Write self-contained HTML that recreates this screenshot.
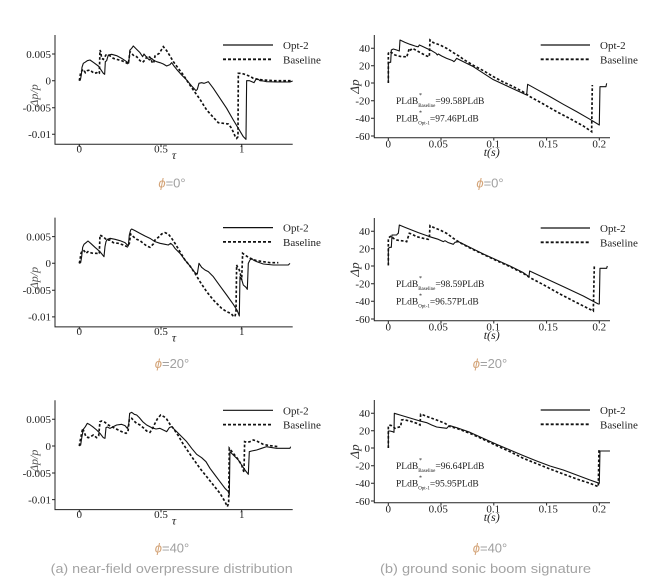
<!DOCTYPE html>
<html><head><meta charset="utf-8">
<style>
html,body{margin:0;padding:0;background:#fff;}
svg{display:block;}
.tk{font-family:"Liberation Serif",serif;font-size:11px;fill:#222;}
.lg{font-family:"Liberation Serif",serif;font-size:11px;fill:#222;}
.an{font-family:"Liberation Serif",serif;font-size:9.5px;fill:#222;}
.ax{stroke:#222;stroke-width:1;fill:none;}
.s{fill:none;stroke:#111;stroke-width:3.3;stroke-linejoin:round;}
.d{fill:none;stroke:#111;stroke-width:5;stroke-dasharray:8 6;}
.phi{font-family:"Liberation Sans",sans-serif;font-size:13px;fill:#a0a0a0;}
.cap{font-family:"Liberation Sans",sans-serif;font-size:13px;fill:#a3a3a3;}
</style></head>
<body>
<svg width="662" height="587" viewBox="0 0 662 587" xmlns="http://www.w3.org/2000/svg">
<rect width="662" height="587" fill="#fff"/>

<defs>
<g id="laxes">
  <path class="ax" d="M55,35 L55,144.3 L292.7,144.3"/>
  <path class="ax" d="M52,54 L55,54 M52,80.7 L55,80.7 M52,107.7 L55,107.7 M52,134.3 L55,134.3 M79.3,144.3 L79.3,147 M161,144.3 L161,147 M241.7,144.3 L241.7,147"/>
  <text class="tk" x="51" y="57.8" text-anchor="end">0.005</text>
  <text class="tk" x="51" y="84.5" text-anchor="end">0</text>
  <text class="tk" x="51" y="111.5" text-anchor="end">-0.005</text>
  <text class="tk" x="51" y="138.1" text-anchor="end">-0.01</text>
  <text class="tk" x="79.3" y="152.5" text-anchor="middle">0</text>
  <text class="tk" x="161" y="152.5" text-anchor="middle">0.5</text>
  <text class="tk" x="241.7" y="152.5" text-anchor="middle">1</text>
  <text x="174" y="159" font-family="Liberation Serif,serif" font-style="italic" font-size="12" fill="#222" text-anchor="middle">τ</text>
  <text transform="translate(38,95.5) rotate(-90)" font-family="Liberation Serif,serif" font-style="italic" font-size="12" fill="#555" text-anchor="middle">Δp/p</text>
  <path d="M223,45 L273,45" stroke="#111" stroke-width="1.2"/>
  <path d="M223,59.3 L273,59.3" stroke="#111" stroke-width="1.8" stroke-dasharray="3 2"/>
  <text class="lg" x="283" y="49">Opt-2</text>
  <text class="lg" x="283" y="63.3">Baseline</text>
</g>
<g id="raxes">
  <path class="ax" d="M374.3,35 L374.3,137.7 L610,137.7"/>
  <path class="ax" d="M371,48.3 L374.3,48.3 M371,65.7 L374.3,65.7 M371,83 L374.3,83 M371,100.7 L374.3,100.7 M371,118.3 L374.3,118.3 M371,136 L374.3,136 M388.3,137.7 L388.3,140.5 M441,137.7 L441,140.5 M493.8,137.7 L493.8,140.5 M546.6,137.7 L546.6,140.5 M599.3,137.7 L599.3,140.5"/>
  <text class="tk" x="370" y="52.1" text-anchor="end">40</text>
  <text class="tk" x="370" y="69.5" text-anchor="end">20</text>
  <text class="tk" x="370" y="86.8" text-anchor="end">0</text>
  <text class="tk" x="370" y="104.5" text-anchor="end">-20</text>
  <text class="tk" x="370" y="122.1" text-anchor="end">-40</text>
  <text class="tk" x="370" y="139.8" text-anchor="end">-60</text>
  <text class="tk" x="388.3" y="147.3" text-anchor="middle">0</text>
  <text class="tk" x="438.3" y="147.3" text-anchor="middle">0.05</text>
  <text class="tk" x="493.3" y="147.3" text-anchor="middle">0.1</text>
  <text class="tk" x="548.3" y="147.3" text-anchor="middle">0.15</text>
  <text class="tk" x="599.3" y="147.3" text-anchor="middle">0.2</text>
  <text x="491.7" y="156" font-family="Liberation Serif,serif" font-style="italic" font-size="12" fill="#222" text-anchor="middle">t(s)</text>
  <text transform="translate(359,86.5) rotate(-90)" font-family="Liberation Serif,serif" font-style="italic" font-size="13" fill="#333" text-anchor="middle">Δp</text>
  <path d="M540.7,45 L590,45" stroke="#111" stroke-width="1.2"/>
  <path d="M540.7,59.3 L590,59.3" stroke="#111" stroke-width="1.8" stroke-dasharray="3 2"/>
  <text class="lg" x="600" y="49">Opt-2</text>
  <text class="lg" x="600" y="63.3">Baseline</text>
</g>
</defs>

<use href="#laxes"/>
<use href="#laxes" transform="translate(0,182.6)"/>
<use href="#laxes" transform="translate(0,365.3)"/>
<use href="#raxes"/>
<use href="#raxes" transform="translate(0,183)"/>
<use href="#raxes" transform="translate(0,365)"/>

<!-- ROW 1 LEFT -->
<g transform="translate(0,30) scale(0.3333)">
<path class="s" d="M238,152 L241,150 L244,135 L246,112 L250,100 L255,97 L262,92 L270,90 L280,97 L295,108 L310,130 L314,133 L316,95 L320,92 L322,85 L325,75 L335,73 L350,77 L365,85 L380,95 L386,100 L388,80 L390,60 L395,55 L400,48 L410,58 L420,68 L428,80 L432,72 L440,82 L448,90 L455,85 L462,92 L470,95 L480,98 L490,102 L500,108 L510,104 L515,98 L522,108 L530,118 L545,135 L560,150 L575,168 L588,182 L592,178 L597,160 L605,158 L612,160 L620,157 L625,155 L640,175 L660,205 L680,235 L700,270 L715,295 L730,320 L738,328 L740,152 L748,152 L755,155 L762,158 L768,148 L775,148 L780,152 L790,153 L800,155 L830,156 L870,156 L878,153"/>
<path class="d" d="M238,152 L240,140 L242,128 L246,122 L250,118 L256,128 L262,122 L270,120 L276,125 L283,130 L290,128 L296,132 L298,130 L300,60 L302,65 L305,85 L310,88 L318,75 L328,76 L340,85 L350,88 L365,92 L378,98 L385,102 L390,65 L395,70 L402,78 L410,80 L420,92 L428,97 L435,90 L442,78 L450,82 L458,100 L462,95 L465,78 L478,70 L490,50 L500,62 L510,78 L520,95 L535,115 L550,135 L565,158 L580,180 L600,208 L620,240 L640,262 L655,278 L670,280 L685,282 L695,295 L705,318 L710,325 L714,320 L715,130 L725,130 L740,135 L752,140 L760,145 L775,148 L790,150 L820,152 L878,152"/>
</g>

<!-- ROW 2 LEFT -->
<g transform="translate(0,210) scale(0.3333)">
<path class="s" d="M238,160 L242,158 L245,140 L248,112 L252,103 L258,98 L264,93 L272,100 L285,112 L300,125 L312,140 L315,110 L318,95 L322,88 L330,85 L345,88 L360,92 L375,98 L385,108 L388,75 L392,60 L395,57 L405,62 L420,70 L435,78 L450,85 L465,95 L480,100 L495,103 L505,105 L512,100 L518,105 L525,115 L540,130 L555,150 L570,168 L585,188 L592,192 L597,160 L605,172 L615,180 L625,185 L640,200 L660,228 L680,255 L700,283 L712,302 L718,318 L720,200 L725,208 L730,225 L738,232 L742,238 L745,160 L750,150 L755,145 L760,150 L770,155 L790,162 L820,165 L865,165 L870,160"/>
<path class="d" d="M238,160 L240,150 L243,130 L247,122 L252,122 L258,130 L264,125 L270,128 L280,130 L290,130 L296,132 L298,130 L300,75 L305,78 L312,82 L320,90 L330,90 L340,98 L355,100 L370,105 L382,110 L388,100 L392,72 L400,80 L410,88 L420,92 L430,100 L440,108 L450,112 L460,102 L465,90 L475,82 L485,72 L495,68 L505,72 L515,85 L525,100 L540,125 L555,150 L570,168 L585,190 L600,215 L620,245 L640,270 L655,285 L665,295 L680,305 L692,310 L700,318 L705,320 L708,305 L710,165 L712,170 L718,180 L722,195 L725,210 L728,130 L735,135 L745,142 L755,147 L770,152 L790,155 L810,158 L835,158"/>
</g>

<!-- ROW 3 LEFT -->
<g transform="translate(0,395) scale(0.3333)">
<path class="s" d="M238,153 L242,150 L245,130 L250,103 L256,95 L262,85 L268,88 L278,95 L290,105 L300,115 L310,128 L315,130 L318,98 L322,96 L330,100 L340,95 L350,90 L365,88 L375,92 L382,100 L386,90 L389,55 L395,52 L403,58 L410,60 L418,68 L428,80 L440,90 L455,98 L468,102 L480,100 L490,105 L500,110 L508,98 L515,95 L520,100 L530,110 L545,125 L560,140 L575,160 L590,178 L605,188 L618,200 L630,220 L645,240 L660,260 L675,280 L685,290 L688,300 L690,170 L695,175 L705,185 L715,195 L725,210 L735,225 L745,238 L748,170 L755,168 L770,165 L785,160 L800,155 L810,157 L830,160 L870,160 L872,155"/>
<path class="d" d="M238,153 L240,140 L244,120 L248,100 L252,110 L258,125 L265,128 L272,125 L280,120 L290,128 L296,122 L300,80 L305,78 L315,82 L325,90 L335,95 L345,100 L355,105 L365,110 L378,115 L384,110 L388,72 L395,70 L402,78 L410,85 L420,90 L432,100 L440,108 L450,112 L458,100 L465,85 L472,72 L482,60 L492,65 L500,72 L510,88 L520,100 L535,122 L550,148 L565,170 L580,192 L600,220 L620,245 L640,270 L660,295 L675,320 L682,335 L686,325 L688,160 L692,165 L700,175 L712,190 L725,210 L732,232 L734,140 L740,142 L750,140 L760,135 L770,138 L790,148 L810,152 L835,155"/>
</g>

<!-- ROW 1 RIGHT -->
<g transform="translate(330,30) scale(0.3333)">
<path class="s" d="M175,159 L175,100 L178,97 L182,97 L184,60 L190,57 L200,60 L205,62 L208,63 L210,30 L225,37 L240,43 L255,48 L262,50 L265,50 L268,45 L275,48 L290,55 L305,62 L318,70 L322,75 L325,72 L335,78 L350,85 L368,92 L372,95 L375,92 L380,85 L430,110 L490,149 L540,172 L590,195 L593,163 L620,178 L660,200 L700,223 L740,245 L780,268 L808,285 L810,170 L828,170 L830,160"/>
<path class="d" d="M175,159 L175,70 L178,65 L185,68 L195,75 L205,78 L215,80 L225,80 L230,82 L238,55 L242,60 L248,55 L260,62 L275,70 L290,78 L298,80 L300,30 L310,38 L330,45 L350,55 L370,68 L390,80 L400,88 L430,106 L460,122 L490,140 L520,156 L550,170 L580,186 L600,200 L640,222 L680,245 L720,266 L760,288 L785,305 L787,165"/>
</g>

<!-- ROW 2 RIGHT -->
<g transform="translate(330,210) scale(0.3333)">
<path class="s" d="M175,166 L175,115 L180,112 L184,112 L186,75 L195,75 L200,75 L202,72 L205,70 L208,45 L225,52 L245,60 L265,68 L285,75 L305,82 L325,88 L340,95 L345,92 L355,98 L370,103 L375,97 L385,95 L420,112 L460,132 L500,150 L540,168 L580,188 L597,200 L599,183 L640,202 L700,230 L760,258 L805,282 L808,282 L810,175 L830,175 L832,168"/>
<path class="d" d="M175,166 L175,85 L180,80 L185,78 L190,85 L200,90 L210,92 L225,93 L230,95 L238,70 L245,72 L260,80 L280,85 L295,88 L298,85 L300,47 L310,52 L330,60 L350,70 L370,85 L390,98 L420,114 L460,133 L500,152 L540,170 L580,190 L600,203 L640,224 L690,252 L740,278 L780,298 L790,303 L793,168"/>
</g>

<!-- ROW 3 RIGHT -->
<g transform="translate(330,395) scale(0.3333)">
<path class="s" d="M175,159 L175,108 L180,108 L188,110 L192,112 L193,55 L210,60 L230,66 L250,72 L270,78 L290,83 L305,90 L320,96 L335,98 L350,100 L355,95 L360,92 L380,98 L420,112 L460,130 L500,148 L540,165 L580,182 L620,198 L660,213 L700,225 L740,240 L780,255 L808,265 L810,168 L840,168"/>
<path class="d" d="M175,159 L175,95 L178,90 L185,92 L190,95 L195,100 L200,98 L212,95 L215,75 L220,74 L240,78 L260,85 L270,90 L272,58 L280,60 L300,68 L320,75 L345,85 L360,95 L380,100 L420,115 L460,133 L500,152 L540,170 L580,190 L620,206 L660,222 L700,237 L740,252 L780,265 L805,275 L807,165"/>
</g>

<!-- PLdB annotations -->
<g class="an">
  <text x="396" y="104">PLdB<tspan font-size="5" dy="3">Baseline</tspan><tspan dy="-3">=99.58PLdB</tspan></text>
  <text x="419" y="97" font-size="6">*</text>
  <text x="396" y="121.5">PLdB<tspan font-size="5" dy="3">Opt-1</tspan><tspan dy="-3">=97.46PLdB</tspan></text>
  <text x="419" y="114.5" font-size="6">*</text>

  <text x="396" y="287">PLdB<tspan font-size="5" dy="3">Baseline</tspan><tspan dy="-3">=98.59PLdB</tspan></text>
  <text x="419" y="280" font-size="6">*</text>
  <text x="396" y="304.5">PLdB<tspan font-size="5" dy="3">Opt-1</tspan><tspan dy="-3">=96.57PLdB</tspan></text>
  <text x="419" y="297.5" font-size="6">*</text>

  <text x="396" y="469">PLdB<tspan font-size="5" dy="3">Baseline</tspan><tspan dy="-3">=96.64PLdB</tspan></text>
  <text x="419" y="462" font-size="6">*</text>
  <text x="396" y="486.5">PLdB<tspan font-size="5" dy="3">Opt-1</tspan><tspan dy="-3">=95.95PLdB</tspan></text>
  <text x="419" y="479.5" font-size="6">*</text>
</g>

<!-- phi labels -->
<text class="phi" x="172" y="187.5" text-anchor="middle"><tspan fill="#d4a57a" font-style="italic">ϕ</tspan>=0°</text>
<text class="phi" x="490" y="187.5" text-anchor="middle"><tspan fill="#d4a57a" font-style="italic">ϕ</tspan>=0°</text>
<text class="phi" x="172" y="368" text-anchor="middle"><tspan fill="#d4a57a" font-style="italic">ϕ</tspan>=20°</text>
<text class="phi" x="490" y="368" text-anchor="middle"><tspan fill="#d4a57a" font-style="italic">ϕ</tspan>=20°</text>
<text class="phi" x="172" y="552.5" text-anchor="middle"><tspan fill="#d4a57a" font-style="italic">ϕ</tspan>=40°</text>
<text class="phi" x="490" y="552.5" text-anchor="middle"><tspan fill="#d4a57a" font-style="italic">ϕ</tspan>=40°</text>

<!-- captions -->
<text class="cap" x="50.7" y="573" textLength="242" lengthAdjust="spacingAndGlyphs">(a) near-field overpressure distribution</text>
<text class="cap" x="380" y="573" textLength="211" lengthAdjust="spacingAndGlyphs">(b) ground sonic boom signature</text>
</svg>
</body></html>
